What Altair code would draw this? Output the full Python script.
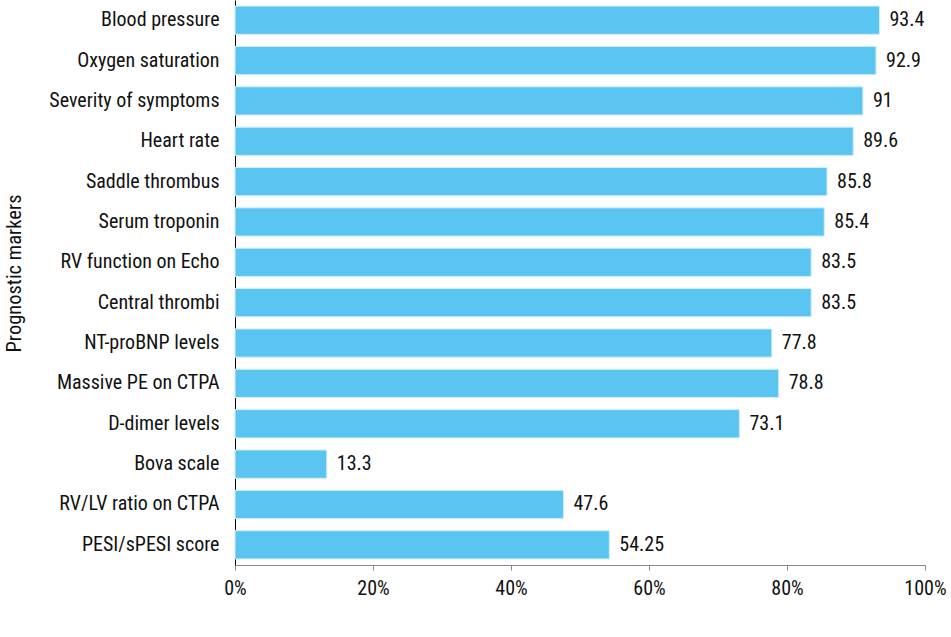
import altair as alt
import pandas as pd

markers = ["Blood pressure", "Oxygen saturation", "Severity of symptoms", "Heart rate",
           "Saddle thrombus", "Serum troponin", "RV function on Echo", "Central thrombi",
           "NT-proBNP levels", "Massive PE on CTPA", "D-dimer levels", "Bova scale",
           "RV/LV ratio on CTPA", "PESI/sPESI score"]
values = [93.4, 92.9, 91, 89.6, 85.8, 85.4, 83.5, 83.5, 77.8, 78.8, 73.1, 13.3, 47.6, 54.25]
labels = ["93.4", "92.9", "91", "89.6", "85.8", "85.4", "83.5", "83.5", "77.8", "78.8",
          "73.1", "13.3", "47.6", "54.25"]

df = pd.DataFrame({"marker": markers, "value": values, "label": labels})

FONT = "Roboto Condensed"
W = 400
FS = 20

y = alt.Y("marker:N", sort=markers, title="Prognostic markers",
          scale=alt.Scale(paddingInner=0.3, paddingOuter=0.15),
          axis=alt.Axis(domainColor="#000000", ticks=False, labelFontSize=FS,
                        labelColor="#111111", labelPadding=16, titleFontSize=20.5,
                        titleFontWeight=W, labelFontWeight=W, titleColor="#111111",
                        titlePadding=0, titleX=-215, titleY=273, titleBaseline="alphabetic",
                        labelFont=FONT, titleFont=FONT))
x = alt.X("value:Q", title=None,
          scale=alt.Scale(domain=[0, 100], nice=False),
          axis=alt.Axis(values=[0, 20, 40, 60, 80, 100], labelExpr="datum.value + '%'",
                        grid=False, domainColor="#888888", tickColor="#888888",
                        tickSize=5, labelFontSize=FS, labelFontWeight=W, labelColor="#111111",
                        labelPadding=8, labelFont=FONT, labelFlush=False))

bars = alt.Chart(df).mark_bar(color="#5BC5F2", stroke="#cfeefc", strokeWidth=1).encode(x=x, y=y)
text = alt.Chart(df).mark_text(align="left", dx=10, fontSize=FS, fontWeight=W, color="#111111",
                               font=FONT).encode(x="value:Q", y=alt.Y("marker:N", sort=markers),
                                                 text="label:N")

chart = (bars + text).properties(
    width=690, height=565,
    autosize=alt.AutoSizeParams(type="none"),
    padding={"left": 235, "top": 0, "right": 26, "bottom": 72},
    background="white",
).configure_view(stroke=None)

chart.save("out.html", embed_options={"renderer": "svg", "actions": False})
